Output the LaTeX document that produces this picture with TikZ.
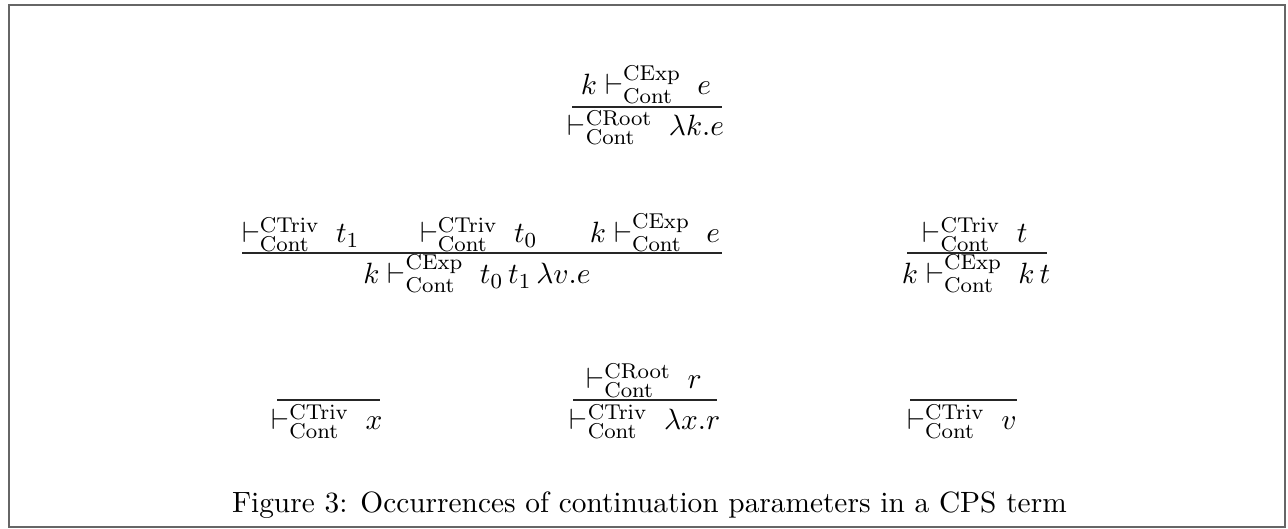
\documentclass[tikz,border=0pt]{standalone}
\newcommand{\cvd}[1]{\vdash^{\mathrm{#1}}_{\mathrm{Cont}}\;}
\tikzset{
  txt/.style={inner sep=0pt, outer sep=0pt, anchor=base, font=\fontsize{10.95}{13}\selectfont},
  infrule/.style={line width=0.5pt, draw=black!85},
  frame/.style={line width=0.52pt, draw=black!60}
}
\begin{document}
\begin{tikzpicture}[x=0.373134pt,y=-0.373134pt]
\useasboundingbox (0,0) rectangle (1288,529);
\draw[frame] (9,5) rectangle (1285,527);

% top rule
\node[txt] (tn) at (646,95) {$k \cvd{CExp} e$};
\node[txt] (td) at (646,136) {$\cvd{CRoot} \lambda k.e$};
\draw[infrule] (572,107) -- (722,107);

% middle left rule
\node[txt,anchor=base west] (m1) at (242,243) {$\cvd{CTriv} t_1$};
\node[txt,anchor=base west] (m2) at (420,243) {$\cvd{CTriv} t_0$};
\node[txt,anchor=base east] (m3) at (720,243) {$k \cvd{CExp} e$};
\node[txt] (md) at (477,284) {$k \cvd{CExp} t_0\,t_1\,\lambda v.e$};
\draw[infrule] (242,253) -- (722,253);

% middle right rule
\node[txt] (rn) at (975,243) {$\cvd{CTriv} t$};
\node[txt] (rd) at (976,284) {$k \cvd{CExp} k\,t$};
\draw[infrule] (907,253) -- (1047,253);

% bottom left
\node[txt] (bl) at (327,430) {$\cvd{CTriv} x$};
\draw[infrule] (277,400) -- (380,400);

% bottom middle
\node[txt] (bmn) at (644,389) {$\cvd{CRoot} r$};
\node[txt] (bmd) at (645,430) {$\cvd{CTriv} \lambda x.r$};
\draw[infrule] (573,400) -- (717,400);

% bottom right
\node[txt] (br) at (962,430) {$\cvd{CTriv} v$};
\draw[infrule] (910,400) -- (1017,400);

% caption
\node[txt,anchor=base west] (cap) at (232,513) {Figure 3: Occurrences of continuation parameters in a CPS term};
\end{tikzpicture}
\end{document}
